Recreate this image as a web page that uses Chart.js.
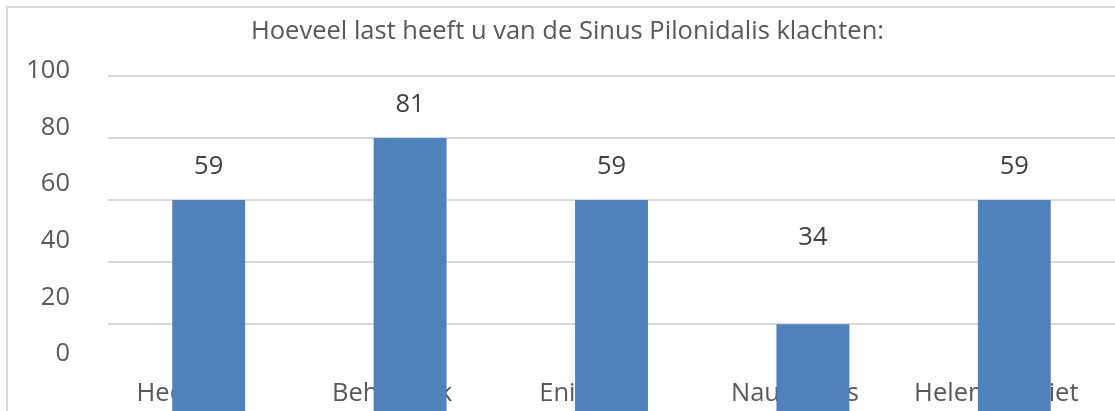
<!DOCTYPE html>
<html>
<head>
<meta charset="utf-8">
<script src="https://cdn.jsdelivr.net/npm/chart.js@4"></script>
<style>
  html, body { margin: 0; padding: 0; background: #fff; overflow: hidden; }
  #frame { position: absolute; left: 6px; top: 6px; width: 1300px; height: 600px; border: 2px solid #d9d9d9; }
  #chart { position: absolute; left: 0; top: 0; }
</style>
</head>
<body>
<div id="frame"></div>
<canvas id="chart" width="1115" height="411"></canvas>
<script>
const title = "Hoeveel last heeft u van de Sinus Pilonidalis klachten:";
const categories = ["Heel veel", "Behoorlijk", "Enigszins", "Nauwelijks", "Helemaal niet"];
// bar heights as drawn against the gridlines
const barValues = [60, 80, 60, 20, 60];
// the numbers printed over the bars
const labelValues = [59, 81, 59, 34, 59];
const gridTicks = [20, 40, 60, 80, 100];
const axisTicks = [0, 20, 40, 60, 80, 100];

const fontSize = 25.5;
const textFont = fontSize + "px 'Open Sans'";

// category names sit low in the plot, behind the bars
const categoryText = {
	id: "categoryText",
	beforeDatasetsDraw(chart) {
		let ctx = chart.ctx;
		let x = chart.scales.x;
		ctx.save();
		ctx.font = textFont;
		ctx.fillStyle = "#595959";
		ctx.textAlign = "center";
		ctx.textBaseline = "middle";
		categories.forEach((c, i) => {
			ctx.fillText(c, x.getPixelForValue(i) - 18, chart.chartArea.bottom - 17);
		});
		ctx.restore();
	}
};

const valueText = {
	id: "valueText",
	afterDatasetsDraw(chart) {
		let ctx = chart.ctx;
		let bars = chart.getDatasetMeta(0).data;
		let y2 = chart.scales.y2;
		ctx.save();
		ctx.font = textFont;
		ctx.fillStyle = "#404040";
		ctx.textAlign = "center";
		ctx.textBaseline = "middle";
		labelValues.forEach((v, i) => {
			ctx.fillText(String(v), bars[i].x, y2.getPixelForValue(v) - 20);
		});
		ctx.restore();
	}
};

let ctx = document.getElementById("chart").getContext("2d");
window.chart = new Chart(ctx, {
	type: "bar",
	data: {
		labels: categories,
		datasets: [
			{
				data: barValues,
				backgroundColor: "#4f81bd",
				base: -12,
				barPercentage: 0.362,
				categoryPercentage: 1,
				yAxisID: "y"
			}
		]
	},
	options: {
		responsive: false,
		animation: false,
		devicePixelRatio: 1,
		layout: { padding: { left: 20, top: 0, right: 0, bottom: 0 } },
		plugins: {
			legend: { display: false },
			tooltip: { enabled: false },
			title: {
				display: true,
				text: title,
				color: "#595959",
				font: { family: "'Open Sans'", size: fontSize, weight: "normal", lineHeight: 1.2 },
				padding: { top: 16, bottom: 29.4 }
			}
		},
		scales: {
			x: { display: false },
			y: {
				position: "left",
				min: -8,
				max: 100,
				afterBuildTicks: (a) => { a.ticks = gridTicks.map((v) => ({ value: v })); },
				afterFit: (a) => { a.width = 0; a.paddingTop = 0; a.paddingBottom = 0; },
				grid: { color: "#d9d9d9", lineWidth: 2, drawTicks: false },
				border: { display: false },
				ticks: { display: false }
			},
			y2: {
				position: "left",
				min: -20.1,
				max: 98.2,
				afterBuildTicks: (a) => { a.ticks = axisTicks.map((v) => ({ value: v })); },
				afterFit: (a) => { a.width = 88; a.paddingTop = 0; a.paddingBottom = 0; },
				grid: { display: false, drawTicks: false },
				border: { display: false },
				ticks: {
					color: "#595959",
					font: { family: "'Open Sans'", size: fontSize },
					padding: 38,
					autoSkip: false
				}
			}
		}
	},
	plugins: [categoryText, valueText]
});
</script>
</body>
</html>
